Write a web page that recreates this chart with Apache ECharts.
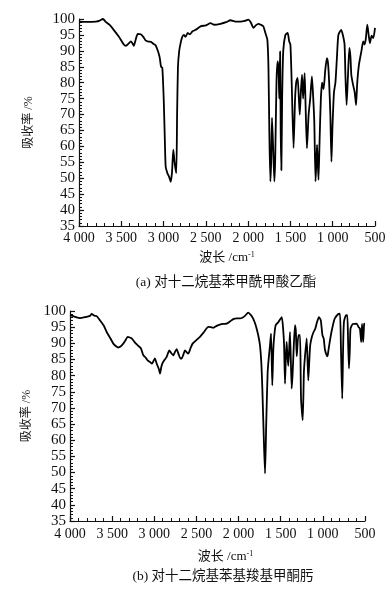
<!DOCTYPE html>
<html>
<head>
<meta charset="utf-8">
<script src="https://cdn.jsdelivr.net/npm/echarts@6/dist/echarts.min.js"></script>
<style>
  html, body { margin: 0; padding: 0; background: #fff; }
  #chart { width: 392px; height: 591px; }
</style>
</head>
<body>
<div id="chart"></div>
<script>
// (a) 对十二烷基苯甲酰甲酸乙酯 — wavenumber / absorbance %
const waveA = [4000, 3900, 3800, 3760, 3717, 3680, 3640, 3590, 3530, 3470, 3446, 3410, 3387, 3365, 3352, 3330, 3305, 3270, 3240, 3210,
  3180, 3150, 3120, 3093, 3065, 3045, 3030, 3015, 2998, 2985, 2975, 2955, 2935, 2915, 2900, 2885, 2870, 2850, 2840, 2830,
  2815, 2798, 2780, 2760, 2740, 2715, 2690, 2660, 2620, 2562, 2500, 2444, 2400, 2327, 2260, 2209, 2150, 2091, 2040, 1997,
  1970, 1937, 1910, 1879, 1850, 1820, 1795, 1773, 1760, 1748, 1737, 1728, 1718, 1705, 1690, 1680, 1665, 1652, 1640, 1632,
  1622, 1615, 1607, 1598, 1585, 1560, 1533, 1515, 1500, 1485, 1463, 1445, 1430, 1415, 1400, 1390, 1375, 1363, 1350, 1332,
  1320, 1305, 1285, 1266, 1246, 1232, 1218, 1203, 1192, 1185, 1177, 1168, 1155, 1140, 1125, 1108, 1088, 1069, 1055, 1042,
  1028, 1015, 1003, 985, 968, 950, 933, 900, 880, 860, 850, 836, 820, 803, 790, 780, 760, 740, 724, 710,
  690, 660, 640, 625, 610, 591, 575, 560, 540, 520, 500];
const absA = [99.2, 99.1, 99.2, 99.4, 100, 99.0, 98.2, 96.6, 94.5, 92.0, 91.6, 92.4, 93.0, 92.2, 91.6, 93.5, 95.3, 95.2, 94.4, 93.2,
  92.9, 92.8, 92.2, 91.7, 89.8, 87.8, 85.0, 84.7, 74.6, 62, 53.6, 51.6, 50.5, 48.9, 52, 59, 55, 51.6, 70, 85,
  90, 92.5, 94.3, 95, 94.4, 95.6, 95.2, 96.1, 96.6, 97.7, 98.0, 98.7, 98.2, 98.5, 99.0, 99.6, 99.2, 99.2, 99.4, 99.8,
  99.0, 97.2, 98.0, 98.5, 98.2, 97.7, 95.5, 93.5, 85, 62, 49, 55, 69, 60, 49, 56, 80, 86.7, 84, 75,
  89.8, 65, 52.5, 75, 90, 95, 95.6, 93, 91.9, 80, 59.5, 75, 80.4, 81.5, 75, 70, 78, 82.5, 75, 83,
  72, 59.4, 70, 75, 82, 76, 68, 49, 56, 60.5, 55, 49.5, 62, 75, 80, 78, 84, 87.7, 86, 80,
  70, 55.2, 66, 77, 80, 88, 95, 96.6, 95, 92, 82.5, 73, 82, 90.9, 88, 82.5, 79.4, 77, 73, 80,
  85.6, 90, 93, 92, 93.5, 98.2, 95, 92.4, 94.8, 94, 97.2];

// (b) 对十二烷基苯基羧基甲酮肟
const waveB = [4000, 3940, 3881, 3820, 3763, 3743, 3715, 3684, 3644, 3600, 3565, 3520, 3486, 3450, 3427, 3400, 3368, 3340, 3316, 3290,
  3268, 3240, 3217, 3190, 3158, 3130, 3100, 3079, 3050, 3028, 3010, 2992, 2975, 2964, 2945, 2932, 2918, 2905, 2880, 2853,
  2822, 2800, 2775, 2755, 2735, 2710, 2690, 2676, 2655, 2636, 2615, 2597, 2570, 2545, 2500, 2458, 2410, 2359, 2330, 2300,
  2260, 2221, 2180, 2142, 2100, 2063, 2020, 1983, 1950, 1924, 1885, 1853, 1830, 1810, 1790, 1766, 1746, 1730, 1718, 1700,
  1686, 1672, 1655, 1640, 1627, 1615, 1600, 1588, 1576, 1560, 1530, 1488, 1470, 1460, 1449, 1440, 1430, 1420, 1410, 1390,
  1370, 1360, 1350, 1331, 1320, 1310, 1290, 1271, 1259, 1239, 1225, 1215, 1192, 1173, 1160, 1150, 1130, 1110, 1090, 1070,
  1046, 1025, 1005, 990, 975, 955, 945, 935, 915, 890, 860, 820, 797, 785, 770, 760, 750, 725, 710, 700,
  690, 680, 672, 645, 600, 575, 560, 545, 535, 522, 510, 500];
const absB = [98.7, 98.2, 97.8, 98.1, 98.5, 99.1, 98.6, 98.4, 97.1, 95.5, 93.5, 91.5, 89.9, 89.0, 88.7, 89.0, 89.9, 91.0, 92.0, 91.8,
  91.5, 90.6, 89.9, 89.2, 88.4, 86.3, 85.5, 84.7, 84.2, 83.7, 84.5, 85.3, 84.0, 83.2, 82.0, 80.6, 82.5, 83.7, 84.8, 85.8,
  87.8, 87.0, 86.3, 87.3, 88.2, 86.5, 85.3, 85.3, 86.5, 87.8, 87.2, 86.8, 88.5, 89.9, 91.0, 92.0, 93.5, 95.1, 95.0, 94.8,
  95.4, 95.8, 96.0, 96.1, 96.8, 97.5, 97.7, 97.7, 98.0, 98.5, 99.5, 98.7, 97.8, 96.6, 95.0, 92.4, 89.4, 84, 76, 60,
  49.7, 65, 81.1, 86, 89.4, 93, 77, 88, 92.5, 95.6, 96.5, 98.1, 94, 89.4, 77.5, 85, 90.4, 86, 83, 93.5,
  76, 80, 86, 95.6, 93.5, 86, 92.5, 92.5, 72.9, 66.2, 81, 85, 91.5, 78.5, 85, 89.4, 92, 93.5, 94.5, 96.5,
  98.1, 97.2, 92.5, 91.5, 88, 86.3, 86, 87.6, 91, 94.5, 97.6, 99.0, 99.2, 88, 72.9, 88, 96.6, 98.7, 98.7, 90,
  82.2, 88, 94.5, 96, 96.1, 95, 94.5, 90.4, 96, 90.4, 96, 96.1];

const xTicks = [500, 1000, 1500, 2000, 2500, 3000, 3500, 4000];
const yTicks = [35, 40, 45, 50, 55, 60, 65, 70, 75, 80, 85, 90, 95, 100];
const captions = ['(a) 对十二烷基苯甲酰甲酸乙酯', '(b) 对十二烷基苯基羧基甲酮肟'];

const serif = '"Liberation Serif", "Noto Sans CJK SC", serif';
const ink = '#111';

function fmtWave(v) {
  if (v < 1000) return String(v);
  return Math.floor(v / 1000) + ' ' + String(v % 1000).padStart(3, '0');
}

function xAxisOption(gridIndex, labelMargin, nameGap) {
  return {
    gridIndex,
    type: 'value',
    inverse: true,
    min: xTicks[0],
    max: xTicks[xTicks.length - 1],
    interval: 500,
    name: '波长 /cm{sup|-1}',
    nameLocation: 'middle',
    nameGap,
    nameTextStyle: {
      fontFamily: serif, fontSize: 13, color: ink,
      padding: gridIndex === 1 ? [0, 0, 0, 16] : 0,
      rich: { sup: { fontSize: 8, verticalAlign: 'top', fontFamily: serif, color: ink, padding: [0, 0, 6, 0] } },
    },
    axisLine: { onZero: false, lineStyle: { color: ink, width: 1.2 } },
    axisTick: { inside: true, length: 5, lineStyle: { color: ink, width: 1.2 } },
    minorTick: { show: true, splitNumber: 5, length: 3, lineStyle: { color: ink, width: 1 } },
    axisLabel: { margin: labelMargin, formatter: fmtWave, fontFamily: serif, fontSize: 14, color: ink, showMinLabel: true, showMaxLabel: true },
    splitLine: { show: false },
  };
}

function yAxisOption(gridIndex, nameGap) {
  return {
    gridIndex,
    type: 'value',
    min: yTicks[0],
    max: yTicks[yTicks.length - 1],
    interval: 5,
    name: '吸收率 /%',
    nameLocation: 'middle',
    nameRotate: 90,
    nameGap,
    nameTextStyle: { fontFamily: serif, fontSize: 12, color: ink },
    axisLine: { onZero: false, lineStyle: { color: ink, width: 1.2 } },
    axisTick: { inside: true, length: 5, lineStyle: { color: ink, width: 1.2 } },
    minorTick: { show: true, splitNumber: 5, length: 3, lineStyle: { color: ink, width: 1 } },
    axisLabel: { margin: 4, fontFamily: serif, fontSize: 15, color: ink },
    splitLine: { show: false },
  };
}

function lineSeries(idx, waves, values) {
  return {
    type: 'line',
    xAxisIndex: idx,
    yAxisIndex: idx,
    data: waves.map((w, i) => [w, values[i]]),
    showSymbol: false,
    symbol: 'none',
    smooth: 0.2,
    lineStyle: { color: '#000', width: 1.8 },
    silent: true,
    animation: false,
  };
}

const chart = echarts.init(document.getElementById('chart'), null, { renderer: 'canvas' });
chart.setOption({
  backgroundColor: '#fff',
  animation: false,
  title: [
    { text: captions[0], left: 226, top: 276, textAlign: 'center', padding: 0,
      textStyle: { fontFamily: serif, fontSize: 13.5, fontWeight: 'normal', color: ink } },
    { text: captions[1], left: 223, top: 570, textAlign: 'center', padding: 0,
      textStyle: { fontFamily: serif, fontSize: 13.5, fontWeight: 'normal', color: ink } },
  ],
  grid: [
    { left: 79, right: 17, top: 19, height: 207, outerBoundsMode: 'none' },
    { left: 70, right: 27, top: 311, height: 210, outerBoundsMode: 'none' },
  ],
  xAxis: [xAxisOption(0, 5, 25), xAxisOption(1, 6, 29)],
  yAxis: [yAxisOption(0, 44), yAxisOption(1, 37)],
  series: [lineSeries(0, waveA, absA), lineSeries(1, waveB, absB)],
});
</script>
</body>
</html>
